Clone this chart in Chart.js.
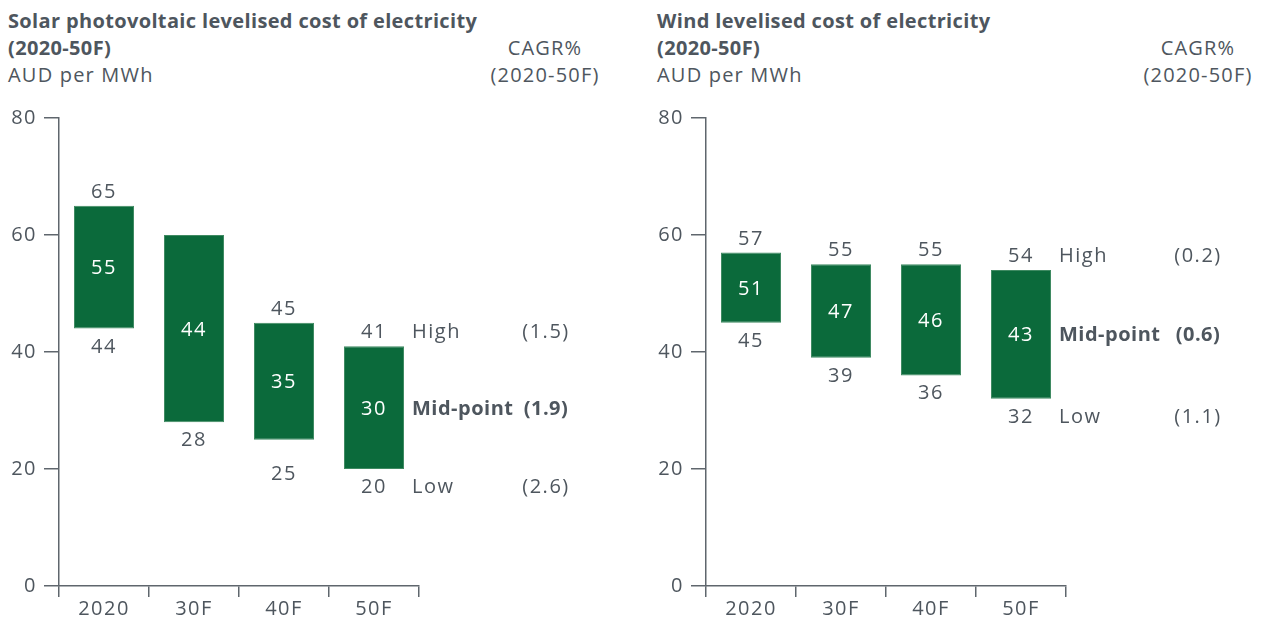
<!DOCTYPE html>
<html>
<head>
<meta charset="utf-8">
<script src="https://cdn.jsdelivr.net/npm/chart.js@4.4.1/dist/chart.umd.min.js"></script>
<style>
    body { margin: 0; background: #fff; }
    #wrap { position: relative; width: 1269px; height: 619px; overflow: hidden;
            font-family: "Open Sans", sans-serif; color: #4e565e; }
    .kop { position: absolute; top: 7px; font-size: 20px; line-height: 27px; white-space: nowrap; letter-spacing: 1.2px; }
    .kop b { font-weight: 700; letter-spacing: 0.35px; }
    .cagr { position: absolute; top: 34px; font-size: 20px; line-height: 27px; letter-spacing: 1.2px;
            text-align: center; transform: translateX(-50%); white-space: nowrap; }
    canvas { position: absolute; top: 0; }
</style>
</head>
<body>
<div id="wrap">
    <div class="kop" style="left:8px"><b>Solar photovoltaic levelised cost of electricity<br>(2020-50F)</b><br>AUD per MWh</div>
    <div class="cagr" style="left:545px">CAGR%<br>(2020-50F)</div>
    <div class="kop" style="left:657px"><b>Wind levelised cost of electricity<br>(2020-50F)</b><br>AUD per MWh</div>
    <div class="cagr" style="left:1198px">CAGR%<br>(2020-50F)</div>
    <canvas id="solarGrafiek" width="634" height="619" style="left:0"></canvas>
    <canvas id="windGrafiek" width="634" height="619" style="left:647px"></canvas>
</div>
<script>
// Jaren op de x-as
const jaren = ['2020', '30F', '40F', '50F'];
const yTicks = [0, 20, 40, 60, 80];

// Zon (AUD per MWh)
const zonLaag = [44, 28, 25, 20];
const zonHoog = [65, 60, 45, 41];
const zonMidden = [55, 44, 35, 30];
const zonHoogLabel = [65, null, 45, 41]; // 30F heeft geen label boven de balk

// Wind (AUD per MWh)
const windLaag = [45, 39, 36, 32];
const windHoog = [57, 55, 55, 54];
const windMidden = [51, 47, 46, 43];
const windHoogLabel = [57, 55, 55, 54];

// Rijen naast de laatste balk + CAGR%
const rijNamen = ['High', 'Mid-point', 'Low'];
const zonCagr = ['(1.5)', '(1.9)', '(2.6)'];
const windCagr = ['(0.2)', '(0.6)', '(1.1)'];

const FONT = '"Open Sans", sans-serif';
const TEKST = '#4e565e';
const AS = '#5f666d';
const GROEN = '#0b6a3b';
const SPATIE = '1.5px';

// Iets ruimere letters op het canvas (reset bij elke canvas-resize, dus steeds opnieuw zetten)
const letterRuimte = {
    id: 'letterRuimte',
    beforeUpdate(chart) { chart.ctx.letterSpacing = SPATIE; },
    beforeDraw(chart) { chart.ctx.letterSpacing = SPATIE; }
};

// Labels boven, in en onder de balken, plus de rijen High / Mid-point / Low
const bereikLabels = {
    id: 'bereikLabels',
    afterDatasetsDraw(chart, args, opts) {
        const ctx = chart.ctx;
        const balken = chart.getDatasetMeta(0).data;
        ctx.save();
        ctx.letterSpacing = SPATIE;
        ctx.textAlign = 'center';
        ctx.textBaseline = 'alphabetic';
        ctx.font = `20px ${FONT}`;
        balken.forEach((b, i) => {
            const boven = Math.min(b.y, b.base);
            const onder = Math.max(b.y, b.base);
            ctx.fillStyle = TEKST;
            if (opts.hoog[i] != null) ctx.fillText(String(opts.hoog[i]), b.x, boven - 8);
            ctx.fillText(String(opts.laag[i]), b.x, onder + 24 + (opts.laagShift[i] || 0));
            ctx.fillStyle = '#ffffff';
            ctx.fillText(String(opts.midden[i]), b.x, (boven + onder) / 2 + 7);
        });

        const laatste = balken[balken.length - 1];
        const boven = Math.min(laatste.y, laatste.base);
        const onder = Math.max(laatste.y, laatste.base);
        const rijY = [boven - 8, (boven + onder) / 2 + 7, onder + 24];
        const xNaam = laatste.x + laatste.width / 2 + 8;
        ctx.fillStyle = TEKST;
        rijNamen.forEach((naam, r) => {
            ctx.font = (r === 1 ? 'bold ' : '') + `20px ${FONT}`;
            ctx.letterSpacing = r === 1 ? '0.5px' : SPATIE;
            ctx.textAlign = 'left';
            ctx.fillText(naam, xNaam, rijY[r]);
            ctx.textAlign = 'center';
            ctx.fillText(opts.cagr[r], opts.cagrX, rijY[r]);
        });
        ctx.restore();
    }
};

function maakGrafiek(id, laag, hoog, midden, hoogLabel, cagr, cagrX, laagShift) {
    const ctx = document.getElementById(id).getContext('2d');
    return new Chart(ctx, {
        type: 'bar',
        data: {
            labels: jaren,
            datasets: [{
                data: laag.map((l, i) => [l, hoog[i]]),
                backgroundColor: GROEN,
                borderColor: '#3f8a62',
                borderWidth: 1,
                borderSkipped: false,
                categoryPercentage: 1,
                barPercentage: 2 / 3
            }]
        },
        options: {
            responsive: false,
            animation: false,
            layout: { padding: { top: 118, right: 215, left: 0, bottom: 0 } },
            scales: {
                x: {
                    offset: true,
                    afterFit(scale) { scale.height = 33; },
                    grid: { offset: true, drawOnChartArea: false, tickLength: 11, color: AS, lineWidth: 1.5 },
                    border: { display: true, color: AS, width: 1.5 },
                    ticks: { color: TEKST, font: { family: FONT, size: 20 }, padding: 0 }
                },
                y: {
                    min: 0,
                    max: 80,
                    afterFit(scale) { scale.width = 59; },
                    afterBuildTicks(scale) { scale.ticks = yTicks.map(v => ({ value: v })); },
                    grid: { drawOnChartArea: false, tickLength: 15, color: AS, lineWidth: 1.5 },
                    border: { display: true, color: AS, width: 1.5 },
                    ticks: { color: TEKST, font: { family: FONT, size: 20 }, padding: 7 }
                }
            },
            plugins: {
                legend: { display: false },
                tooltip: { enabled: false },
                bereikLabels: { hoog: hoogLabel, laag: laag, midden: midden, cagr: cagr, cagrX: cagrX, laagShift: laagShift }
            }
        },
        plugins: [letterRuimte, bereikLabels]
    });
}

document.fonts.load(`20px ${FONT}`).then(() => document.fonts.load(`bold 20px ${FONT}`)).then(() => {
    maakGrafiek('solarGrafiek', zonLaag, zonHoog, zonMidden, zonHoogLabel, zonCagr, 546, [0, 0, 16, 0]);
    maakGrafiek('windGrafiek', windLaag, windHoog, windMidden, windHoogLabel, windCagr, 551, [0, 0, 0, 0]);
});
</script>
</body>
</html>
